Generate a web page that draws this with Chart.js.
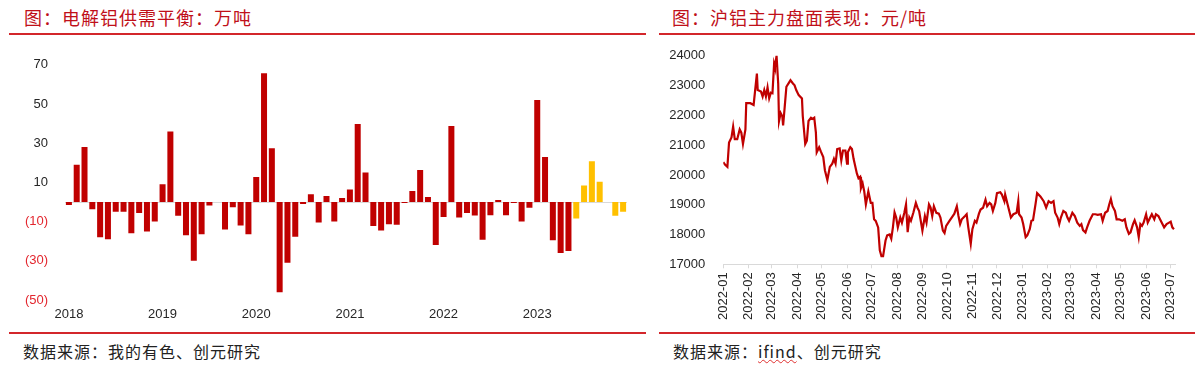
<!DOCTYPE html>
<html>
<head>
<meta charset="utf-8">
<script src="https://cdn.jsdelivr.net/npm/chart.js@4"></script>
<style>
  html, body { margin: 0; padding: 0; background: #fff; }
  body { width: 1200px; height: 373px; position: relative; overflow: hidden; }
  .title { position: absolute; top: 4px; font: 18px "Noto Sans CJK SC"; color: #c0101a; white-space: nowrap; letter-spacing: 1px; }
  .rule { position: absolute; height: 2px; background: #d3262b; }
  .source { position: absolute; top: 339px; font: 16px "Noto Sans CJK SC"; color: #222; white-space: nowrap; letter-spacing: 1px; }
  .source u { text-decoration: underline wavy #e03030; text-decoration-thickness: 1px; }
  .box { position: absolute; }
</style>
</head>
<body>
<div class="title" style="left:24px">图：电解铝供需平衡：万吨</div>
<div class="title" style="left:672px">图：沪铝主力盘面表现：元/吨</div>
<div class="rule" style="left:9px; width:637px; top:33px"></div>
<div class="rule" style="left:659px; width:536px; top:33px"></div>
<div class="rule" style="left:9px; width:637px; top:332px"></div>
<div class="rule" style="left:659px; width:536px; top:332px"></div>
<div class="source" style="left:23px">数据来源：我的有色、创元研究</div>
<div class="source" style="left:673px">数据来源：<u>ifind</u>、创元研究</div>

<div class="box" style="left:0; top:40px; width:640px; height:290px"><canvas id="balance"></canvas></div>
<div class="box" style="left:650px; top:30px; width:550px; height:300px"><canvas id="price"></canvas></div>

<script>
// monthly balance, 万吨, Jan 2018 - May 2023 actual
const balanceActual = [
  -1.5, 19, 28, -3.7, -18, -19, -5, -5, -16, -5.6, -15, -10,
  9, 36, -7, -17, -30, -16.5, -1.8, 0, -14, -2.7, -12, -16.4,
  12.7, 65.7, 27.4, -46, -31, -17.7, -1, 4, -10.5, 3, -10, 2,
  6.4, 39.8, 15, -12.2, -14.5, -11.3, -11.6, -0.5, 5.6, 16.3, 2.6, -22,
  -7.6, 38.8, -7.9, -5.6, -6.9, -19.2, -6.8, 1, -6.8, -0.5, -10, -2.9,
  52, 23, -19.5, -26, -25
];
// Jun - Dec 2023 forecast
const balanceForecast = [-8.4, 8.4, 20.8, 10.3, 0, -7, -5];
const years = [2018, 2019, 2020, 2021, 2022, 2023];
const balanceTicks = [-50, -30, -10, 10, 30, 50, 70];

// SHFE aluminium main contract, 元/吨; x = days since 2022-01-01
const priceDays = [
  0, 2, 5, 7, 10, 12, 14, 17, 20, 22, 24, 27, 28, 33, 37, 41, 42, 46, 48, 50,
  52, 54, 56, 58, 60, 62, 63, 65, 67, 68, 70, 72, 73, 75, 77, 80, 82, 85, 87, 89,
  92, 96, 97, 100, 102, 104, 107, 109, 111, 113, 114, 117, 119, 122, 124, 127, 130, 133, 135, 137,
  139, 142, 144, 146, 149, 151, 152, 155, 157, 159, 163, 165, 167, 168, 170, 172, 174, 177, 180, 182,
  184, 186, 189, 191, 193, 195, 198, 200, 203, 205, 207, 209, 211, 213, 216, 218, 221, 223, 225, 227,
  229, 232, 235, 237, 239,
  243, 246, 248, 251, 253, 255, 257, 260, 263, 265, 268, 270, 272, 276, 280, 282, 285, 287, 289, 291,
  295, 297, 299, 302, 304, 307, 309, 312, 314, 317, 320, 322, 325, 327, 329, 332, 334, 338, 340, 343,
  344, 347, 349, 351, 354, 358, 360, 361, 364, 366, 369, 371, 374, 376, 378, 381, 383, 387, 391, 394,
  397, 400, 403, 405, 408, 410, 412, 415, 418, 420, 422, 426, 429, 432, 435, 437, 439, 442, 444, 447,
  451, 454, 457, 461, 463, 466, 469, 471, 473, 475, 478, 480, 483, 487, 490, 492, 495, 497, 500, 502,
  505, 507, 509, 511, 513, 516, 518, 521, 523, 526, 528, 531, 533, 535, 538, 541, 544, 546, 548, 550
];
const priceValues = [
  20430, 20350, 20270, 21090, 21260, 21620, 21200, 21200, 21530, 21420, 21040, 21530, 22410, 22410, 22350, 23400, 22850, 22800, 22630, 22850,
  22630, 22940, 22570, 22760, 22740, 23730, 23620, 24000, 23070, 21810, 22080, 21970, 21660, 22300, 22960, 23090, 23180, 23070, 23010, 22850,
  22680, 22570, 21970, 21040, 21150, 21810, 21920, 21880, 21920, 21420, 20760, 20930, 20790, 20600, 20160, 19830, 20270, 20380, 20540, 20380,
  20870, 20890, 20490, 20820, 20820, 20380, 20760, 20930, 20870, 20540, 20050, 19890, 19940, 19560, 19720, 19450, 19010, 19450, 19060, 19060,
  18510, 18460, 18240, 17470, 17270, 17270, 17800, 17970, 18000, 17860, 18240, 18740, 18570, 18240, 18570, 18400, 18740, 19010, 18080, 18570,
  18460, 18740, 19060, 18900, 18790,
  18130, 18620, 18400, 19010, 18900, 18620, 18950, 18730, 18700, 18570, 18130, 18050, 18290, 18460, 18620, 18700, 18950, 18620, 18350, 18510,
  18620, 18680, 18240, 17690, 18180, 18460, 18400, 18700, 18840, 18900, 19170, 18950, 19060, 19010, 18790, 19060, 19390, 19420, 19340, 19120,
  19340, 19010, 18790, 18570, 18680, 18730, 19120, 18680, 18570, 18350, 17910, 17970, 18180, 18460, 18480, 19010, 19390, 19280, 19120, 18900,
  19120, 19060, 19120, 18730, 18570, 18350, 18570, 18790, 18730, 18570, 18460, 18730, 18620, 18400, 18290, 18350, 18150, 18070, 18240, 18460,
  18680, 18680, 18660, 18680, 18460, 18730, 18790, 19010, 19190, 18950, 18790, 18510, 18510, 18460, 18510, 18240, 18020, 18070, 18350, 18480,
  18240, 17910, 18350, 18290, 18400, 18680, 18400, 18570, 18680, 18510, 18680, 18620, 18510, 18400, 18240, 18350, 18400, 18430, 18240, 18180
];

const RED = '#c00000';
const YELLOW = '#ffc000';
const TICK_FONT = { family: 'Liberation Sans', size: 13 };

// month categories for the bar chart
const months = [];
years.forEach(y => { for (let m = 1; m <= 12; m++) months.push(y + '-' + String(m).padStart(2, '0')); });
const balance = balanceActual.concat(balanceForecast);
const barColors = balance.map((v, i) => i < balanceActual.length ? RED : YELLOW);

// light line at zero
const zeroLine = {
  id: 'zeroLine',
  beforeDatasetsDraw(chart) {
    const { ctx, chartArea, scales } = chart;
    const y = Math.round(scales.y.getPixelForValue(0)) + 0.5;
    ctx.save();
    ctx.strokeStyle = '#d9d9d9';
    ctx.lineWidth = 1;
    ctx.beginPath();
    ctx.moveTo(chartArea.left, y);
    ctx.lineTo(chartArea.right, y);
    ctx.stroke();
    ctx.restore();
  }
};

new Chart(document.getElementById('balance'), {
  type: 'bar',
  data: {
    labels: months,
    datasets: [{
      data: balance,
      backgroundColor: barColors,
      borderWidth: 0,
      barPercentage: 0.77,
      categoryPercentage: 1
    }]
  },
  options: {
    responsive: true,
    maintainAspectRatio: false,
    animation: false,
    layout: { padding: { left: 0, right: 13, top: 12, bottom: 0 } },
    plugins: { legend: { display: false }, tooltip: { enabled: false } },
    scales: {
      x: {
        grid: { display: false, drawTicks: false },
        border: { display: false },
        ticks: {
          autoSkip: false,
          maxRotation: 0,
          padding: 7,
          font: TICK_FONT,
          color: '#262626',
          callback: (v, i) => i % 12 === 0 ? months[i].slice(0, 4) : ''
        },
        afterFit: s => { s.height = 30; }
      },
      y: {
        min: -50,
        max: 70,
        afterBuildTicks: s => { s.ticks = balanceTicks.map(v => ({ value: v })); },
        grid: { display: false, drawTicks: false },
        border: { display: false },
        ticks: {
          padding: 17,
          font: TICK_FONT,
          color: c => c.tick.value < 0 ? '#e3262e' : '#262626',
          callback: v => v < 0 ? '(' + (-v) + ')' : String(v)
        },
        afterFit: s => { s.width = 65; }
      }
    }
  },
  plugins: [zeroLine]
});

// month starts, as days since 2022-01-01
const dayMs = 86400000;
const t0 = Date.UTC(2022, 0, 1);
const monthTicks = [];
for (let k = 0; k <= 18; k++) {
  const d = new Date(Date.UTC(2022, k, 1));
  monthTicks.push({ value: Math.round((d - t0) / dayMs),
    label: d.getUTCFullYear() + '-' + String(d.getUTCMonth() + 1).padStart(2, '0') });
}

new Chart(document.getElementById('price'), {
  type: 'line',
  data: {
    datasets: [{
      data: priceDays.map((d, i) => ({ x: d, y: priceValues[i] })),
      borderColor: RED,
      borderWidth: 2.2,
      pointRadius: 0,
      tension: 0
    }]
  },
  options: {
    responsive: true,
    maintainAspectRatio: false,
    animation: false,
    layout: { padding: { left: 0, right: 24.4, top: 21.7, bottom: 0 } },
    plugins: { legend: { display: false }, tooltip: { enabled: false } },
    scales: {
      x: {
        type: 'linear',
        min: 0,
        max: 552,
        afterBuildTicks: s => { s.ticks = monthTicks.map(t => ({ value: t.value })); },
        grid: { display: true, drawOnChartArea: false, drawTicks: true, tickLength: 4, color: '#d9d9d9' },
        border: { display: true, color: '#d9d9d9' },
        ticks: {
          autoSkip: false,
          minRotation: 90,
          maxRotation: 90,
          padding: 4,
          font: TICK_FONT,
          color: '#262626',
          callback: v => { const t = monthTicks.find(m => m.value === v); return t ? t.label : ''; }
        },
        afterFit: s => { s.height = 65.7; }
      },
      y: {
        min: 17000,
        max: 24000,
        ticks: { stepSize: 1000, padding: 18, font: TICK_FONT, color: '#262626', callback: v => String(v) },
        grid: { display: false, drawTicks: false },
        border: { display: false },
        afterFit: s => { s.width = 73.3; }
      }
    }
  }
});
</script>
</body>
</html>
